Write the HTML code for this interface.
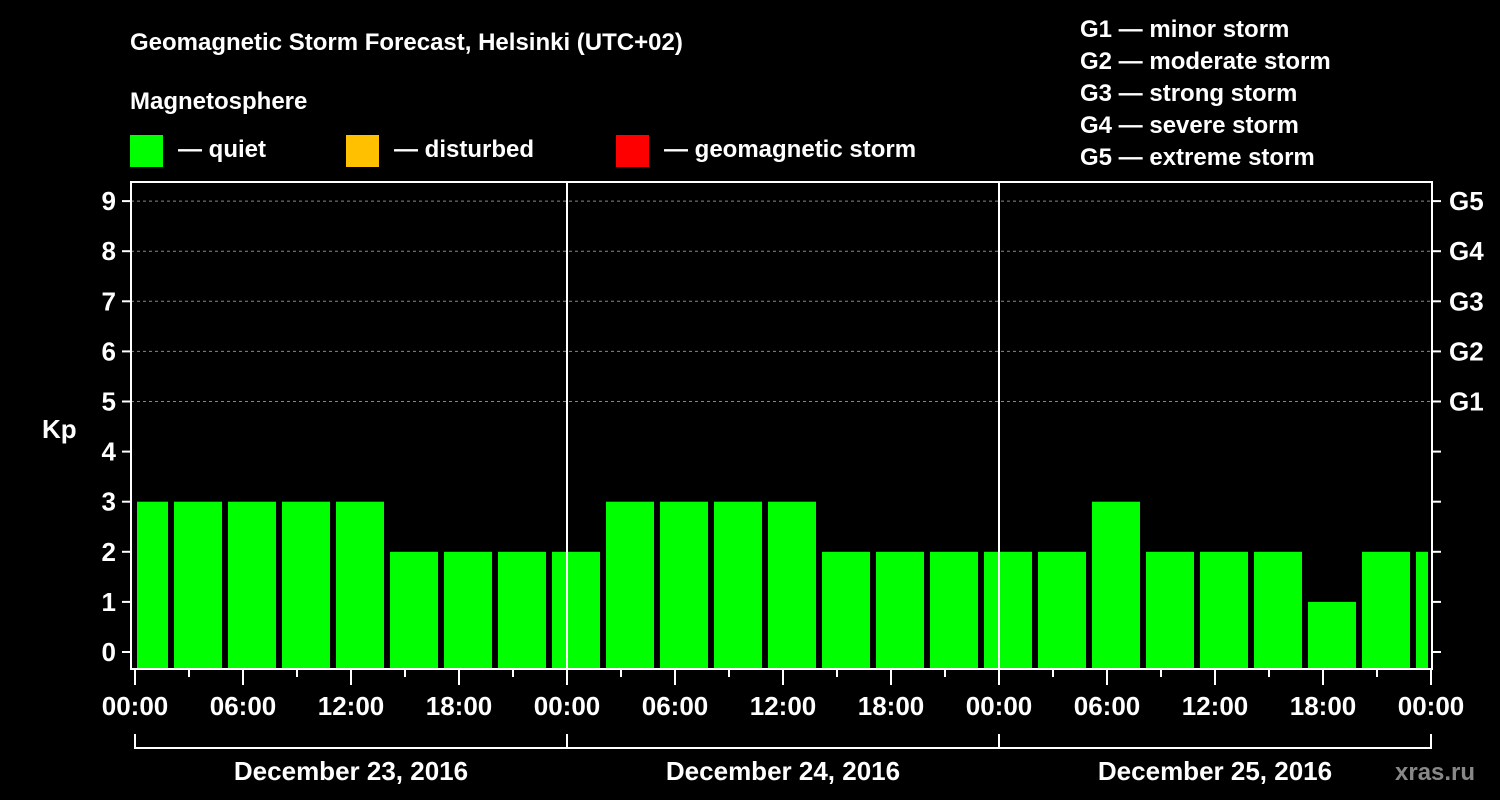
<!DOCTYPE html>
<html><head><meta charset="utf-8"><style>
html,body{margin:0;padding:0;background:#000;}
svg{display:block;font-family:"Liberation Sans",sans-serif;font-weight:bold;}
</style></head><body>
<svg id="chart" width="1500" height="800" xmlns="http://www.w3.org/2000/svg">
<text x="130" y="50" fill="#fff" font-size="24">Geomagnetic Storm Forecast, Helsinki (UTC+02)</text>
<text x="130" y="109" fill="#fff" font-size="24">Magnetosphere</text>
<g><rect x="130" y="135" width="33" height="32" fill="#00ff00"/><text x="178" y="157" fill="#fff" font-size="24">— quiet</text></g>
<g><rect x="346" y="135" width="33" height="32" fill="#ffc000"/><text x="394" y="157" fill="#fff" font-size="24">— disturbed</text></g>
<g><rect x="616" y="135" width="33" height="32" fill="#ff0000"/><text x="664" y="157" fill="#fff" font-size="24">— geomagnetic storm</text></g>
<g fill="#fff" font-size="24">
<text x="1080" y="37">G1 — minor storm</text><text x="1080" y="69">G2 — moderate storm</text><text x="1080" y="101">G3 — strong storm</text><text x="1080" y="133">G4 — severe storm</text><text x="1080" y="165">G5 — extreme storm</text>
</g>
<text x="42" y="438" fill="#fff" font-size="26">Kp</text>
<text x="1395" y="780" fill="#888" font-size="24">xras.ru</text>
<g id="plot"></g>
</svg>
<script>
const kpValues=[3,3,3,3,3,2,2,2,2,3,3,3,3,2,2,2,2,2,3,2,2,2,1,2,2];
const dayLabels=["December 23, 2016","December 24, 2016","December 25, 2016"];
const yTicks=[0,1,2,3,4,5,6,7,8,9];
const gLabels=["G1","G2","G3","G4","G5"];
const firstBarHour=-1;
const NS="http://www.w3.org/2000/svg";
const L=131,R=1432,T=182,B=669,X0=135,PXH=18;
const x=h=>X0+h*PXH;
const y=v=>652-v*50.1;
const g=document.getElementById('plot');
function mk(tag,attrs,parent){const e=document.createElementNS(NS,tag);for(const k in attrs)e.setAttribute(k,attrs[k]);(parent||g).appendChild(e);return e;}
const totalH=dayLabels.length*24;
// grid
yTicks.forEach(v=>{if(v>=5){const l=mk('line',{x1:L,x2:R,y1:y(v),y2:y(v),stroke:'#888','stroke-dasharray':'3,3','stroke-width':1});

}});
// bars
kpValues.forEach((v,i)=>{let h0=firstBarHour+i*3,h1=h0+3;let x0=x(h0)+3,x1=x(h1)-3;x0=Math.max(x0,x(0)+2);x1=Math.min(x1,x(totalH)-3);
const c=v>=5?'#ff0000':(v>=4?'#ffc000':'#00ff00');
const r=mk('rect',{x:x0,y:y(v),width:x1-x0,height:B-y(v),fill:c});

});
// day separators
for(let d=1;d<dayLabels.length;d++){const l=mk('line',{x1:x(d*24),x2:x(d*24),y1:T,y2:B,stroke:'#fff','stroke-width':2});

}
// frame
const fr=mk('rect',{x:L,y:T,width:R-L,height:B-T,fill:'none',stroke:'#fff','stroke-width':2});


// y ticks
yTicks.forEach(v=>{mk('line',{x1:122,x2:L,y1:y(v),y2:y(v),stroke:'#fff','stroke-width':2});mk('line',{x1:R,x2:1441,y1:y(v),y2:y(v),stroke:'#fff','stroke-width':2});
const t=mk('text',{x:116,y:y(v)+9,fill:'#fff','font-size':26,'text-anchor':'end'});t.textContent=v;

});
gLabels.forEach((s,i)=>{const t=mk('text',{x:1449,y:y(5+i)+9,fill:'#fff','font-size':26});t.textContent=s;

});
// x ticks
for(let h=0;h<=totalH;h+=3){const major=h%6===0;mk('line',{x1:x(h),x2:x(h),y1:B,y2:major?685:677,stroke:'#fff','stroke-width':2});
if(major&&h%24!==0?true:major){}
if(h%6===0){const hh=h%24;const t=mk('text',{x:x(h),y:715,fill:'#fff','font-size':26,'text-anchor':'middle'});t.textContent=String(hh).padStart(2,'0')+':00';

}}
// date bracket
mk('line',{x1:x(0),x2:x(totalH),y1:748,y2:748,stroke:'#fff','stroke-width':2});
for(let d=0;d<=dayLabels.length;d++)mk('line',{x1:x(d*24),x2:x(d*24),y1:734,y2:749,stroke:'#fff','stroke-width':2});
dayLabels.forEach((s,d)=>{const t=mk('text',{x:x(d*24+12),y:780,fill:'#fff','font-size':26,'text-anchor':'middle'});t.textContent=s;

});
</script>
</body></html>
